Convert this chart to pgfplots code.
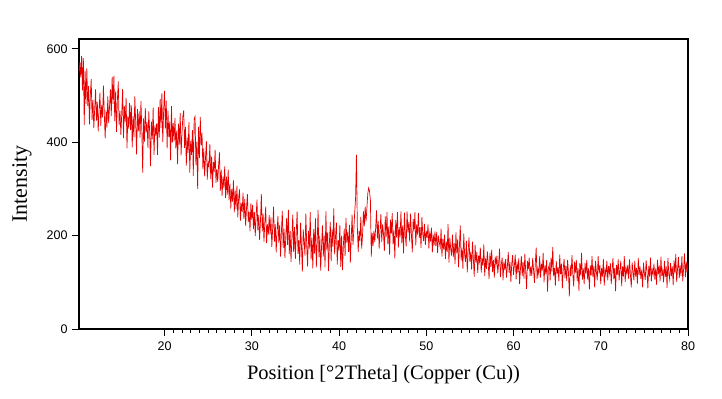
\documentclass[border=0pt]{standalone}
\usepackage{fontspec}
\setmainfont{Liberation Serif}
\newfontfamily\tickfont{Liberation Sans}
\usepackage{pgfplots}
\usepackage{pgfplotstable}
\pgfplotsset{compat=1.18}
\pgfplotstableread[row sep=\\, header=false]{
549\\571\\539\\585\\511\\580\\437\\553\\482\\
558\\478\\520\\438\\502\\535\\448\\490\\430\\472\\
513\\446\\486\\423\\468\\506\\435\\480\\453\\521\\
461\\408\\468\\431\\498\\441\\476\\513\\456\\540\\
482\\542\\445\\509\\422\\490\\530\\437\\467\\415\\
462\\514\\409\\477\\444\\495\\387\\455\\429\\484\\
426\\479\\389\\456\\411\\498\\441\\374\\471\\423\\
466\\410\\488\\428\\335\\451\\401\\473\\421\\443\\
388\\466\\421\\349\\444\\406\\474\\373\\436\\414\\
440\\373\\475\\410\\493\\430\\505\\400\\466\\510\\
429\\489\\387\\467\\411\\444\\361\\477\\399\\441\\
402\\452\\387\\425\\353\\440\\395\\462\\372\\417\\
455\\468\\388\\433\\350\\410\\377\\443\\335\\403\\
373\\426\\328\\450\\455\\351\\400\\300\\433\\366\\
454\\394\\420\\342\\387\\327\\367\\402\\320\\357\\
348\\396\\321\\369\\303\\358\\336\\384\\313\\343\\
315\\351\\378\\296\\341\\285\\326\\303\\348\\281\\
326\\288\\341\\276\\311\\258\\300\\273\\318\\250\\
296\\257\\307\\239\\281\\299\\232\\269\\251\\292\\
236\\278\\221\\259\\289\\229\\251\\209\\269\\233\\
266\\214\\251\\199\\241\\277\\211\\244\\191\\232\\
289\\209\\247\\187\\229\\262\\184\\224\\202\\244\\
202\\239\\176\\217\\262\\187\\224\\164\\209\\242\\
185\\223\\155\\208\\253\\173\\215\\152\\197\\238\\
180\\255\\161\\210\\143\\195\\245\\165\\218\\150\\
206\\252\\161\\190\\138\\228\\176\\123\\213\\188\\
157\\247\\179\\134\\210\\172\\250\\149\\195\\130\\
214\\162\\237\\132\\185\\255\\154\\200\\125\\177\\
222\\155\\200\\132\\252\\170\\207\\124\\185\\229\\
146\\213\\176\\258\\160\\198\\228\\138\\190\\168\\
223\\133\\200\\126\\178\\215\\156\\238\\185\\208\\
165\\223\\142\\193\\245\\180\\212\\250\\280\\373\\
220\\165\\210\\188\\240\\172\\202\\252\\220\\262\\
230\\260\\290\\302\\295\\275\\155\\205\\178\\210\\
186\\216\\254\\194\\231\\172\\209\\246\\186\\224\\
204\\167\\241\\197\\250\\182\\219\\159\\234\\204\\
248\\181\\211\\151\\233\\196\\250\\174\\218\\196\\
252\\184\\222\\162\\249\\200\\177\\252\\207\\229\\
187\\247\\202\\164\\236\\209\\250\\179\\224\\202\\
248\\195\\218\\173\\240\\203\\188\\225\\180\\210\\
195\\224\\172\\209\\187\\217\\164\\202\\179\\209\\
178\\208\\163\\200\\185\\175\\215\\155\\193\\170\\
202\\150\\187\\165\\225\\142\\195\\172\\157\\202\\
154\\184\\139\\207\\162\\192\\132\\177\\222\\147\\
174\\129\\204\\159\\144\\189\\121\\166\\196\\144\\
165\\127\\187\\150\\112\\180\\142\\165\\120\\157\\
144\\174\\121\\151\\136\\181\\114\\151\\129\\166\\
140\\107\\163\\133\\170\\122\\148\\110\\155\\138\\
157\\119\\141\\172\\111\\138\\153\\104\\144\\126\\
150\\110\\135\\165\\120\\143\\101\\140\\158\\116\\
136\\159\\106\\144\\121\\151\\96\\129\\156\\114\\
143\\108\\161\\123\\86\\146\\128\\153\\113\\134\\
114\\152\\126\\99\\141\\174\\107\\129\\117\\156\\
110\\140\\125\\163\\100\\136\\118\\148\\80\\130\\
138\\104\\153\\123\\176\\113\\131\\93\\146\\118\\
132\\102\\159\\117\\140\\87\\129\\150\\109\\135\\
103\\148\\121\\70\\136\\114\\158\\118\\91\\144\\
121\\148\\103\\130\\81\\141\\115\\163\\106\\130\\
96\\141\\118\\148\\106\\130\\85\\136\\115\\156\\
111\\134\\89\\146\\122\\104\\156\\119\\137\\96\\
131\\112\\150\\93\\127\\116\\146\\104\\135\\119\\
141\\96\\126\\152\\107\\131\\81\\137\\116\\149\\
104\\127\\146\\92\\134\\112\\156\\101\\131\\119\\
137\\107\\149\\116\\89\\142\\122\\104\\146\\112\\
131\\97\\152\\116\\134\\107\\127\\89\\142\\119\\
105\\147\\123\\87\\135\\112\\153\\102\\127\\117\\
140\\106\\130\\95\\148\\117\\136\\102\\155\\114\\
126\\100\\146\\111\\134\\88\\152\\118\\106\\141\\
113\\134\\94\\147\\119\\161\\101\\128\\154\\109\\
136\\114\\156\\102\\129\\162\\111\\144\\121\\141\\
}\xrd
\begin{document}
\begin{tikzpicture}
\begin{axis}[
  scale only axis,
  width=609pt, height=290pt,
  xmin=10.2, xmax=80, ymin=0, ymax=621,
  xtick={20,30,40,50,60,70,80},
  ytick={0,200,400,600},
  minor x tick num=9,
  tick align=outside,
  xtick pos=bottom, ytick pos=left,
  major tick length=7pt, minor tick length=4pt,
  every tick/.style={black, line width=0.9pt},
  axis line style={black, line width=1.6pt},
  /pgf/number format/assume math mode=true,
  tick label style={font=\tickfont\fontsize{12.5}{14}\selectfont},
  xticklabel style={yshift=-2pt},
  yticklabel style={xshift=-1pt},
  xlabel={Position [°2Theta] (Copper (Cu))},
  ylabel={Intensity},
  xlabel style={font=\fontsize{20.5}{23}\selectfont, at={(axis description cs:0.5,-0.1586)}, anchor=center},
  ylabel style={font=\fontsize{22}{24}\selectfont, at={(axis description cs:-0.0936,0.5)}, anchor=center},
]
\addplot[color={rgb,255:red,232;green,0;blue,0}, line width=0.7pt] table[x expr=10.2+0.1*\coordindex, y index=0] {\xrd};
\end{axis}
\path ([shift={(-79pt,-70pt)}]current axis.south west) rectangle ([shift={(34pt,39pt)}]current axis.north east);
\end{tikzpicture}
\end{document}
